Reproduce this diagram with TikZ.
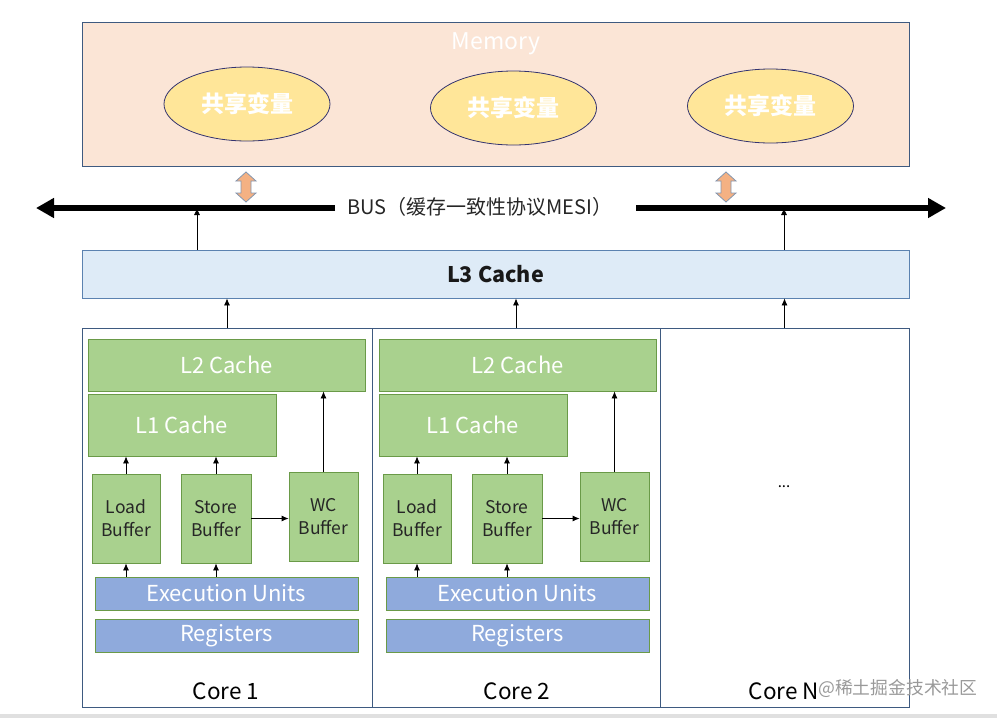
\documentclass[tikz,border=0pt]{standalone}
\usepackage{fontspec}
\setmainfont{Noto Sans CJK SC}
\usetikzlibrary{arrows.meta,shapes.geometric}
\definecolor{memfill}{HTML}{FBE5D6}
\definecolor{frame}{HTML}{3E5A80}
\definecolor{ellfill}{HTML}{FFE699}
\definecolor{l3fill}{HTML}{DEEBF7}
\definecolor{l3line}{HTML}{5B82B0}
\definecolor{gfill}{HTML}{A9D18E}
\definecolor{gline}{HTML}{6A9A48}
\definecolor{bfill}{HTML}{8FAADC}
\definecolor{orangef}{HTML}{F4B183}
\definecolor{arrline}{HTML}{8497B0}
\tikzset{
  gbox/.style={draw=gline, fill=gfill, line width=0.8pt, inner sep=0pt, text=white, font=\fontsize{22}{24}\selectfont},
  bufbox/.style={draw=gline, fill=gfill, line width=0.8pt, inner sep=0pt, text=black!85, align=center, font=\fontsize{17.5}{23}\selectfont},
  bbox/.style={draw=gline, fill=bfill, line width=0.8pt, inner sep=0pt, text=white, font=\fontsize{22}{24}\selectfont},
  corebox/.style={draw=frame, line width=0.8pt, inner sep=0pt},
  shared/.style={ellipse, draw=black!70!blue!80, fill=ellfill, line width=0.8pt, minimum width=166pt, minimum height=74pt, inner sep=0pt, text=white, font=\bfseries\fontsize{23}{25}\selectfont},
  arr/.style={line width=0.8pt, -{Latex[length=7pt,width=6pt]}},
  busline/.style={line width=6pt, -{Triangle[length=18pt,width=19pt]}},
  dblarrow/.style={fill=orangef, draw=arrline, line width=0.8pt},
  corelabel/.style={font=\fontsize{22.5}{24}\selectfont, text=black},
}
\begin{document}
\begin{tikzpicture}[x=1pt,y=-1pt]
\useasboundingbox (0,0) rectangle (997,718);
\fill[black!12] (0,714) rectangle (997,718);
% Memory
\node[draw=frame, fill=memfill, line width=0.8pt, minimum width=827pt, minimum height=144pt, inner sep=0pt] (mem) at (495.5,94) {};
\node[text=white, font=\fontsize{23}{25}\selectfont] (memlabel) at (496,44) {Memory};
\node[shared] (v1) at (247,104) {共享变量};
\node[shared] (v2) at (513.5,108) {共享变量};
\node[shared] (v3) at (770.5,106) {共享变量};
% double arrows
\foreach \x/\n in {246/da1,726/da2}{
  \draw[dblarrow] (\x,172) -- (\x+10,181) -- (\x+5,181) -- (\x+5,193) -- (\x+10,193) -- (\x,202) -- (\x-10,193) -- (\x-5,193) -- (\x-5,181) -- (\x-10,181) -- cycle;
}
% bus
\node[font=\fontsize{20}{22}\selectfont, text=black!85] (bus) at (480,207) {BUS（缓存一致性协议MESI）};
\coordinate (busLs) at (335,208);
\coordinate (busL) at (36,208);
\coordinate (busRs) at (636,208);
\coordinate (busR) at (946,208);
\draw[busline] (busLs) -- (busL);
\draw[busline] (busRs) -- (busR);
% L3
\node[draw=l3line, fill=l3fill, line width=0.8pt, minimum width=827pt, minimum height=48pt, inner sep=0pt, font=\bfseries\fontsize{21.5}{24}\selectfont, text=black!90] (L3) at (495.5,274) {L3 Cache};
\coordinate (b1) at (197,208);
\coordinate (b2) at (784,208);
\draw[arr] (b1 |- L3.north) -- (b1);
\draw[arr] (b2 |- L3.north) -- (b2);
% cores
\node[corebox, minimum width=290pt, minimum height=379pt] (core1) at (227,517.5) {};
\node[corebox, minimum width=288pt, minimum height=379pt] (core2) at (516,517.5) {};
\node[corebox, minimum width=249pt, minimum height=379pt] (coreN) at (784.5,517.5) {};
\draw[arr] (core1.north) -- (core1.north |- L3.south);
\draw[arr] (core2.north) -- (core2.north |- L3.south);
\draw[arr] (coreN.north) -- (coreN.north |- L3.south);
\node[corelabel] (c1lab) at (226,691) {Core 1};
\node[corelabel] (c2lab) at (517,691) {Core 2};
\node[corelabel] (cNlab) at (784,691) {Core N};
\node[font=\fontsize{15}{16}\selectfont] (dots) at (784,487) {...};
\foreach \i/\dx in {1/0,2/291}{
  \begin{scope}[xshift=\dx pt]
    \node[gbox, minimum width=277pt, minimum height=52pt] (L2\i) at (226.5,365) {L2 Cache};
    \node[gbox, minimum width=188pt, minimum height=62pt] (L1\i) at (182,425) {L1 Cache};
    \node[bufbox, minimum width=68pt, minimum height=89pt] (Ld\i) at (126,518.5) {Load\\Buffer};
    \node[bufbox, minimum width=70pt, minimum height=89pt] (St\i) at (216,518.5) {Store\\Buffer};
    \node[bufbox, minimum width=69pt, minimum height=89pt] (WC\i) at (323.5,516.5) {WC\\Buffer};
    \node[bbox, minimum width=263pt, minimum height=33pt] (Ex\i) at (226.5,593.5) {Execution Units};
    \node[bbox, minimum width=263pt, minimum height=33pt] (Rg\i) at (226.5,635.5) {Registers};
  \end{scope}
  \draw[arr] (Ld\i.north) -- (Ld\i.north |- L1\i.south);
  \draw[arr] (St\i.north) -- (St\i.north |- L1\i.south);
  \draw[arr] (WC\i.north) -- (WC\i.north |- L2\i.south);
  \draw[arr] (St\i.east) -- (WC\i.west |- St\i.east);
  \draw[arr] (Ld\i.south |- Ex\i.north) -- (Ld\i.south);
  \draw[arr] (St\i.south |- Ex\i.north) -- (St\i.south);
}
\node[anchor=west, text=black!40, font=\fontsize{17.8}{19}\selectfont, inner sep=0pt] (wm) at (818,688) {@稀土掘金技术社区};
\end{tikzpicture}
\end{document}
